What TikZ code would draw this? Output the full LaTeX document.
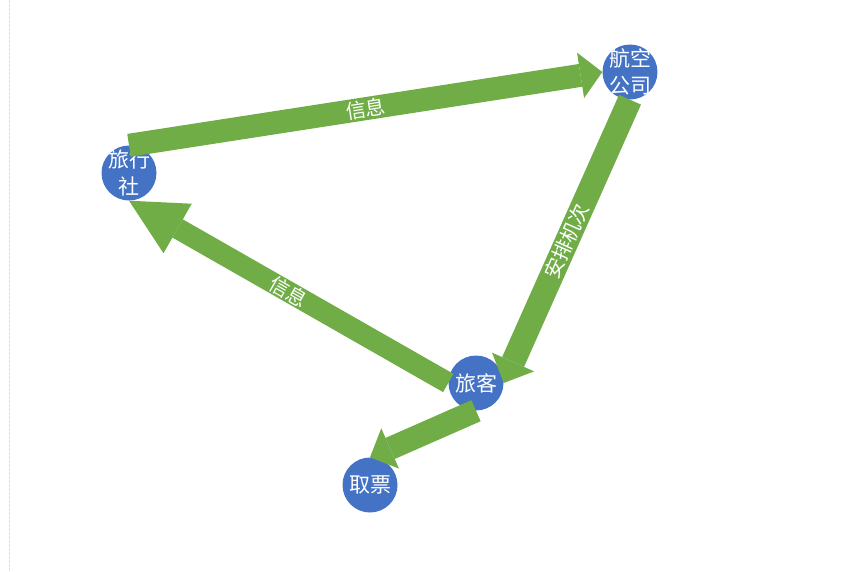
\documentclass[tikz,border=0pt]{standalone}
\usepackage{fontspec}
\setmainfont{Noto Sans CJK SC}
\usetikzlibrary{arrows.meta}
\definecolor{verde}{HTML}{70AD47}
\definecolor{blu}{HTML}{4472C4}
\begin{document}
\begin{tikzpicture}[x=1pt,y=-1pt,
  nodo/.style={circle,fill=blu,text=white,minimum size=55pt,inner sep=0pt,
    align=center,font=\fontsize{21}{27}\selectfont},
  nodo2/.style={nodo,inner sep=-6pt},
  freccia/.style n args={3}{draw=verde,line width=#1,
    -{Triangle[width=#2,length=#3,line width=0pt]}},
  etich/.style={sloped,text=white,inner sep=0pt,font=\fontsize{20}{22}\selectfont}]
  \useasboundingbox (0,0) rectangle (852,571);
  \draw[gray!25,line width=1pt,dash pattern=on 3pt off 1pt] (9.5,0) -- (9.5,571);
  \node[nodo2] (lxs) at (129,173) {旅行\\社};
  \node[nodo2] (hk)  at (630,72)  {航空\\公司};
  \node[nodo] (lk)  at (476,383) {旅客};
  \node[nodo] (qp)  at (370,485) {取票};
  % frecce sopra i cerchi
  \draw[freccia={23pt}{46pt}{22pt}] (lxs.north) -- node[etich] {信息} (hk.west);
  \draw[freccia={24pt}{46pt}{23pt}] (hk.south) -- node[etich] {安排机次} (lk.east);
  \draw[freccia={21pt}{57pt}{56pt}] (lk.west) -- node[etich] {信息} (lxs.south);
  \draw[freccia={23pt}{44pt}{22pt}] (lk.south) -- (qp.north);
\end{tikzpicture}
\end{document}
